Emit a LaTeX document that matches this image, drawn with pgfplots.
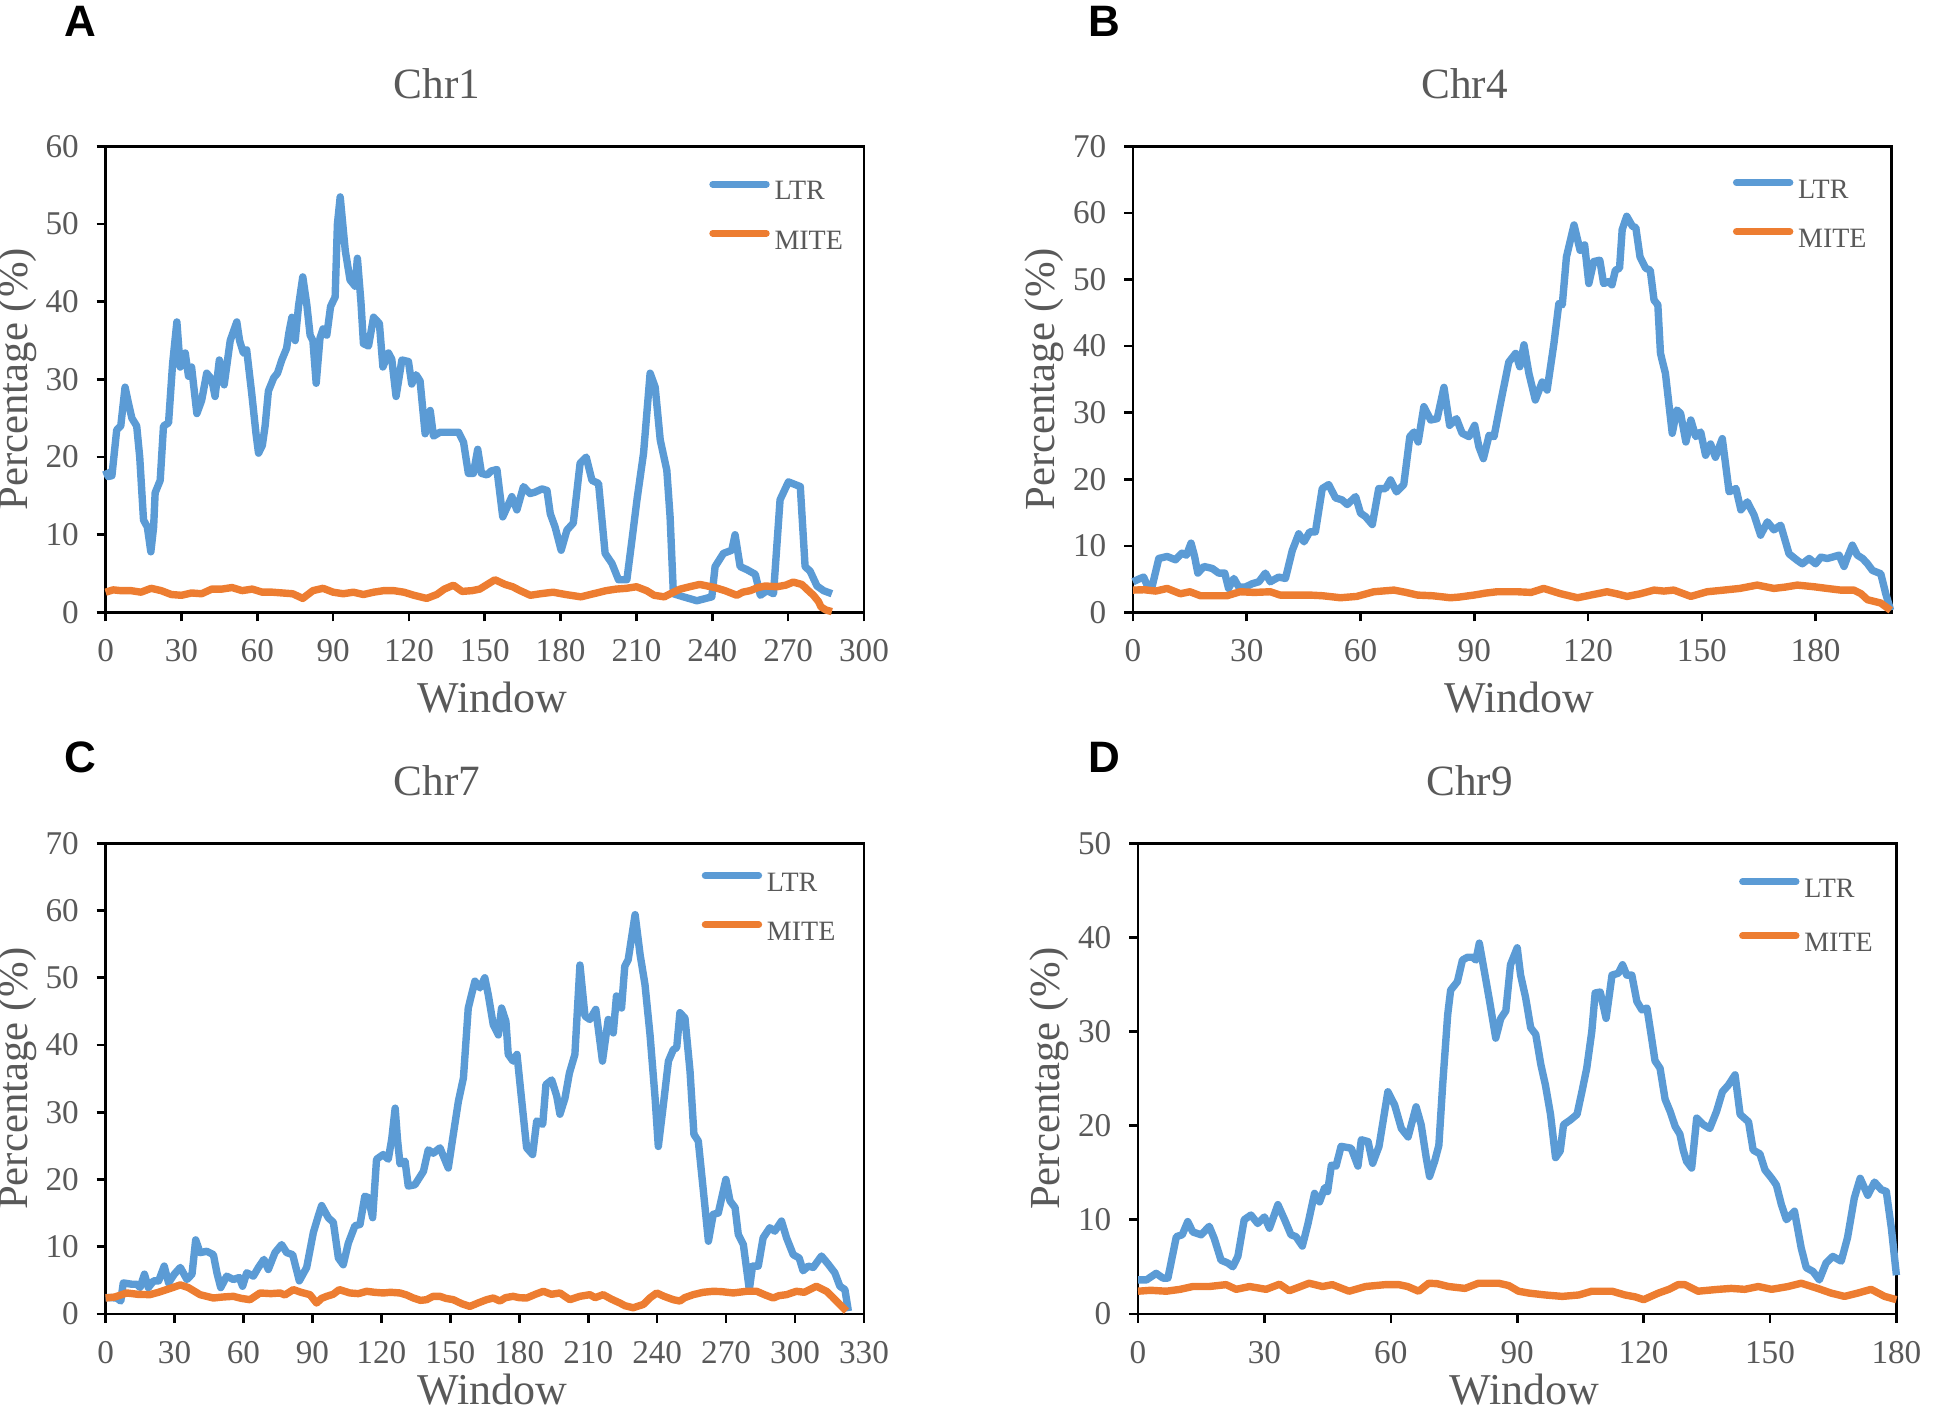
\documentclass[border=0pt]{standalone}
\usepackage{fontspec}
\setmainfont{Liberation Serif}
\newfontfamily\labelfont{Liberation Sans}
\usepackage{pgfplots}
\pgfplotsset{compat=1.18}
\definecolor{ltr}{HTML}{5B9BD5}
\definecolor{mite}{HTML}{ED7D31}
\definecolor{textgray}{HTML}{595959}
\pgfplotsset{
 panel/.style={
  scale only axis, width=189.6pt,
  clip=false,
  axis line style={black, line width=0.65pt},
  tick style={black, line width=0.65pt},
  major tick length=2.25pt, tick align=outside,
  xtick pos=left, ytick pos=left,
  xmin=0, ymin=0,
  /pgf/number format/assume math mode=true,
  ticklabel style={font=\fontsize{8.3}{10}\selectfont, text=textgray, inner sep=0pt},
  xticklabel shift=4.4pt, yticklabel shift=4.25pt,
  title style={at={(0.437,1)}, anchor=center, yshift=9.7pt, font=\fontsize{10.8}{13}\selectfont, text=textgray},
  xlabel=Window,
  xlabel style={at={(axis description cs:0.51,-0.182)}, anchor=center, inner sep=0pt, font=\fontsize{11}{13}\selectfont, text=textgray},
  ylabel={Percentage (\%)},
  ylabel style={at={(axis description cs:-0.1166,0.5)}, anchor=center, font=\fontsize{10.7}{13}\selectfont, text=textgray},
  legend cell align=left,
  legend image code/.code={\draw[##1, line width=1.7pt, line cap=round] (0.8pt,2.4pt) -- (14.2pt,2.4pt);},
  legend style={draw=none, fill=none, inner sep=0pt, font=\fontsize{7}{8}\selectfont, text=textgray, row sep=4.6pt, nodes={inner xsep=1.2pt, inner ysep=0.8pt}},
 },
 ltrline/.style={ltr, line width=1.85pt, line join=round},
 miteline/.style={mite, line width=1.85pt, line join=round},
}
\begin{document}
\begin{tikzpicture}
\useasboundingbox (0,0) rectangle (486.5pt,353pt);
% ---------------- A: Chr1
\begin{axis}[panel, at={(26.4pt,199.9pt)}, anchor=south west, height=116.5pt,
  title=Chr1, xmax=300, ymax=60, xtick={0,30,...,300}, ytick={0,10,...,60},
  legend style={at={(axis description cs:0.795,1)}, anchor=north west, yshift=-7.8pt}]
\addplot[ltrline] coordinates {(0,18.3)(1,17.5)(2.5,17.6)(4.4,23.5)(6,24)(7.7,29)(9,27)(10.4,25)(12.3,24)(13.5,20)(15,11.9)(16.5,11)(17.9,7.8)(19,11)(19.6,15.4)(21.6,17)(22.9,24)(24.9,24.4)(26.5,32)(28.2,37.4)(29.5,31.6)(30.5,32)(31.5,33.4)(32.8,30.4)(34,31.6)(36.1,25.6)(38,27.3)(40,30.8)(42,30)(43.3,27.8)(45,32.5)(46.9,29.3)(49.3,35)(51.9,37.4)(53,35)(54.5,33.4)(55.8,33.8)(57.8,28.2)(59.5,23)(60.5,20.5)(62,21.5)(63.1,24)(64.4,28.5)(66.5,30.2)(68,30.8)(69.7,32.5)(71.6,34)(72.5,36)(73.7,38)(75,35)(76.3,39.4)(78,43.2)(79.6,39.6)(80.9,35.7)(82,35)(83.3,29.5)(84.8,35.3)(86,36.5)(87.5,35.7)(89,39.4)(90.8,40.6)(91.7,50)(92.8,53.5)(94.8,46.6)(96.7,42.8)(98.7,42)(99.6,45.6)(101,40)(102,34.6)(104,34.3)(106,38)(108.3,37.2)(109.7,31.6)(111.9,33.4)(113.2,32.6)(114.9,27.8)(117.2,32.5)(119.8,32.3)(121.1,29.4)(122.8,30.6)(124.4,29.8)(126.4,23)(128.4,26)(129.7,22.7)(132.3,23.2)(136.3,23.2)(139.6,23.2)(141.6,21.9)(143.5,17.9)(145.5,17.9)(147.2,21)(148.7,17.9)(150.9,17.7)(152.5,18.2)(154.8,18.4)(157.1,12.3)(160.7,14.9)(162.7,13.2)(165.3,16.2)(167.9,15.3)(170,15.5)(172.6,15.9)(174.6,15.7)(175.9,12.7)(177.8,11)(180.2,8)(182.5,10.6)(185,11.5)(187.7,19.2)(190.1,20)(192.4,17)(195,16.6)(197.6,7.6)(200.3,6.3)(202.9,4.2)(206.2,4.2)(208.2,9.3)(210.2,14.5)(212.8,20.5)(215.4,30.8)(217.4,29)(219.4,22.2)(222,18.3)(223.3,12.3)(224.6,2.4)(228.6,2)(233.9,1.5)(239.8,2)(241.1,5.9)(244.4,7.6)(247.7,8)(249,10)(251,5.9)(253.7,5.5)(257,4.9)(259,2.2)(261.6,2.8)(264.2,2.4)(266.8,14.5)(270.1,16.8)(274.8,16.2)(276.7,5.9)(278.7,5.3)(281.4,3.4)(284,2.8)(287.3,2.4)};
\addlegendentry{LTR}
\addplot[miteline] coordinates {(0,2.6)(3,2.9)(6,2.8)(10,2.8)(14,2.6)(18,3.1)(22,2.8)(26,2.3)(30,2.2)(34,2.5)(38,2.4)(42,3.0)(46,3.0)(50,3.2)(54,2.8)(58,3.0)(62,2.6)(66,2.6)(70,2.5)(74,2.4)(78,1.8)(82,2.8)(86,3.1)(90,2.6)(94,2.4)(98,2.6)(102,2.3)(106,2.6)(110,2.8)(114,2.8)(118,2.6)(122,2.2)(127,1.8)(131,2.3)(134,3.0)(137.6,3.5)(141,2.7)(145,2.8)(148,3.0)(151,3.6)(154,4.2)(158,3.6)(161,3.3)(164,2.8)(168,2.2)(172,2.4)(177,2.6)(182,2.3)(188,2.0)(193,2.4)(198,2.8)(202,3.0)(206,3.1)(210,3.3)(214,2.8)(217,2.2)(221,2.0)(224,2.5)(227.3,3.0)(231,3.3)(235,3.6)(238,3.4)(241,3.2)(245,2.8)(249.7,2.2)(252,2.6)(255,2.8)(258,3.2)(261,3.4)(265.5,3.3)(269,3.5)(272,3.9)(275.4,3.6)(278,2.8)(280,2.2)(282,1.4)(283,0.7)(285,0.3)(287.3,0.1)};
\addlegendentry{MITE}
\end{axis}
% ---------------- B: Chr4
\begin{axis}[panel, at={(283.25pt,199.9pt)}, anchor=south west, height=116.5pt,
  title=Chr4, xmax=200, ymax=70, xtick={0,30,...,180}, ytick={0,10,...,70},
  legend style={at={(axis description cs:0.790,1)}, anchor=north west, yshift=-7.4pt}]
\addplot[ltrline] coordinates {(0,4.6)(1.5,5)(2.8,5.3)(3.7,4.1)(5,3.8)(6.8,8.1)(9,8.4)(11.2,7.9)(12.9,8.9)(14.1,8.6)(15.3,10.4)(16.2,8.5)(17.1,5.9)(18.7,6.9)(20.9,6.6)(22.6,5.9)(24.2,5.9)(25.2,3.6)(26.6,5.1)(27.9,3.8)(29.6,3.8)(31.4,4.3)(33.2,4.6)(34.9,5.9)(36.2,4.6)(38.4,5.3)(40.2,5.1)(42,9.3)(43.7,11.8)(45.1,10.6)(46.6,12.1)(48.1,12.1)(49.9,18.6)(51.6,19.2)(53.4,17.2)(55.1,16.9)(56.5,16.2)(58.7,17.4)(60,14.9)(61.3,14.4)(63.1,13.2)(64.8,18.6)(66.6,18.6)(67.9,19.9)(69.5,18.1)(71.4,19.2)(73,26.4)(74.1,27.1)(75.2,25.6)(76.7,30.9)(78.5,28.9)(80.2,29.1)(82,33.8)(83.5,28.1)(85.3,29.1)(86.8,26.9)(88.6,26.4)(90.1,28.1)(91.2,24.9)(92.4,23.1)(93.9,26.6)(95.2,26.4)(96.9,31.4)(99.1,37.6)(100.9,38.9)(102,36.9)(103.1,40.2)(104.4,35.9)(106.1,31.9)(107.9,34.6)(109.2,33.4)(111,40.4)(112.3,46.4)(113.2,46.2)(114.3,53.4)(116.3,58.2)(117.9,54.4)(119.1,55.2)(120.2,49.4)(121.5,52.7)(123.1,52.9)(124.1,49.4)(125.5,49.7)(126.3,49.2)(127.2,51.4)(128.3,51.7)(129,57.5)(130.2,59.5)(131.7,58)(132.6,57.8)(133.7,53.4)(135.2,51.7)(136.4,51.4)(137.4,46.9)(138.4,46.2)(139.1,38.9)(140.4,35.9)(141.3,31.4)(142.2,26.9)(143.4,30.4)(144.4,29.9)(145.8,25.6)(147.1,28.9)(148.4,26.4)(149.7,27.1)(151,23.6)(152.3,25.3)(153.6,23.3)(155.4,26.1)(157.2,18.1)(159,18.6)(160.3,15.4)(162,16.6)(163.8,14.6)(165.5,11.6)(167.3,13.6)(169,12.4)(170.8,13.1)(173,8.8)(175.2,7.8)(176.5,7.3)(178.3,8.1)(180,7.3)(181.4,8.3)(183.1,8.1)(184.4,8.3)(186.2,8.6)(187.5,6.9)(188.4,8.3)(189.7,10.1)(191,8.6)(192.4,8.1)(193.7,7.3)(195,6.3)(197.2,5.8)(198.5,2.8)(199.8,0.3)};
\addlegendentry{LTR}
\addplot[miteline] coordinates {(0,3.35)(3,3.4)(6,3.2)(9,3.6)(12.5,2.8)(15,3.1)(17.8,2.5)(21,2.5)(24.8,2.5)(28.2,3.1)(32,3.0)(36.2,3.1)(38.8,2.6)(42,2.6)(46.7,2.6)(50,2.5)(54.7,2.2)(59,2.4)(63.5,3.1)(68.8,3.35)(72,3.0)(75,2.6)(79,2.5)(83.7,2.2)(86,2.3)(89.9,2.6)(93,2.9)(96,3.1)(101.3,3.1)(105,3.0)(108.3,3.6)(112.8,2.8)(117.2,2.2)(120.7,2.6)(125,3.1)(127.5,2.8)(130.3,2.4)(133.8,2.8)(137.4,3.35)(140,3.2)(142.6,3.35)(147.1,2.4)(151.4,3.1)(155.8,3.35)(160,3.6)(164.6,4.1)(169,3.6)(172,3.8)(175.2,4.1)(179.6,3.85)(183,3.6)(186.6,3.35)(190.1,3.35)(192,2.8)(193.7,1.9)(197.2,1.4)(199.8,0.3)};
\addlegendentry{MITE}
\end{axis}
% ---------------- C: Chr7
\begin{axis}[panel, at={(26.4pt,24.55pt)}, anchor=south west, height=117.6pt,
  title=Chr7, xmax=330, ymax=70, xtick={0,30,...,330}, ytick={0,10,...,70},
  xlabel style={at={(axis description cs:0.51,-0.1616)}},
  legend style={at={(axis description cs:0.785,1)}, anchor=north west, yshift=-6.4pt}]
\addplot[ltrline] coordinates {(0,2.4)(2.5,2.4)(4.8,2.35)(6.6,1.9)(7.7,4.6)(9.5,4.5)(11.4,4.4)(13.6,4.4)(15,3.9)(16.9,5.9)(18.6,3.9)(20.9,4.9)(23.1,4.9)(25.5,7.1)(27.4,4.6)(29.9,5.9)(32.5,6.9)(35.4,5.1)(37.6,5.9)(39.2,11)(41.1,9.1)(44,9.3)(46.9,8.8)(48.5,6)(50.1,3.9)(52.7,5.6)(55.6,5.1)(58.2,5.4)(59.6,4.1)(61.4,6.1)(64.3,5.6)(66.5,6.9)(68.9,8.1)(70.8,6.6)(73.7,9.1)(76.6,10.3)(78.8,9.1)(81.4,8.8)(84.3,4.9)(87.5,6.9)(90.4,12.1)(92.5,14.5)(94,16.1)(96.9,14.3)(99.1,13.6)(101.3,8.3)(103.4,7.3)(105.6,10.5)(108.5,13.1)(110.7,13.3)(112.8,17.5)(114.3,17.3)(116.2,14.3)(117.9,23)(120.8,23.7)(123,23)(124.5,26)(126,30.6)(127,26)(128.1,22.3)(130.3,22.7)(131.7,19)(134.6,19.2)(138.3,21.2)(140.4,24.4)(142.6,23.9)(145.5,24.7)(149.1,21.7)(151.3,26.7)(153.5,31.6)(155.7,35.1)(157.8,45.5)(160.7,49.5)(162.9,48.5)(165,50)(166.5,47.5)(168.7,43)(170.9,41.5)(172.3,45.5)(174.2,43.5)(175.2,38.6)(177.3,37.6)(179,38.6)(180.8,32.6)(183.2,24.7)(185.8,23.7)(187.6,28.7)(190.2,28.2)(191.6,34.1)(194.1,34.8)(196.3,32.4)(197.7,29.7)(199.9,32.1)(201.8,35.8)(204.2,38.6)(206.4,51.9)(208.6,44.3)(210.7,43.8)(213.3,45.3)(216.2,37.6)(218.7,43.8)(220.9,41.8)(222.3,47.3)(224.5,45.5)(225.9,51.7)(227.4,52.7)(230.4,59.4)(232.6,53.4)(234.7,49)(236.9,41.5)(239.1,32.1)(240.5,24.9)(242.7,31.1)(244.9,37.6)(247,39.3)(248.5,39.6)(249.9,44.8)(252.1,44)(254.3,36.1)(256,26.7)(257.9,25.7)(260.1,18.3)(262.3,10.8)(264.4,14.8)(266.6,15)(269.9,20)(271.7,16.8)(273.9,15.8)(275.3,11.8)(277.5,10.3)(280.1,3.6)(281.5,7.1)(284,7.1)(286.1,11.3)(289,12.8)(291.2,12.3)(294.1,13.8)(296.3,11.3)(299.2,8.8)(301.8,8.3)(303.5,6.4)(305.7,7.1)(307.9,6.9)(311.5,8.6)(314.4,7.4)(317.3,6.1)(319.5,4.1)(321.7,3.6)(323.2,0.4)};
\addlegendentry{LTR}
\addplot[miteline] coordinates {(0,2.35)(4,2.5)(9.2,3.1)(14,2.9)(19.3,2.85)(23,3.2)(26.5,3.6)(30,4.0)(32.5,4.3)(36,3.9)(41.1,2.85)(44,2.6)(46.9,2.35)(51,2.5)(55.6,2.6)(59,2.3)(62.8,2.1)(67.2,3.1)(72,3.0)(75.9,3.1)(78,2.8)(81.7,3.6)(85,3.2)(88.9,2.85)(91.8,1.6)(94,2.3)(96.2,2.6)(99,2.9)(101.7,3.6)(106.3,3.1)(110,3.0)(113.6,3.35)(117,3.2)(120.8,3.1)(124,3.2)(128.1,3.1)(131,2.8)(133.9,2.35)(137,2.0)(139.7,2.1)(142.5,2.6)(145.5,2.6)(148,2.3)(151.3,2.1)(155,1.5)(158.5,1.1)(162,1.6)(165.8,2.1)(168.7,2.35)(171.6,1.9)(174,2.4)(177.3,2.6)(180,2.4)(183.2,2.35)(187,2.9)(190.5,3.35)(194,2.9)(197.7,3.1)(202,2.1)(206.4,2.6)(210.7,2.85)(213,2.4)(216.5,2.85)(220,2.2)(223.8,1.6)(226,1.2)(229.6,0.9)(234,1.4)(237,2.4)(239.8,3.1)(243,2.6)(247,2.1)(249.9,1.9)(252,2.4)(255.7,2.85)(260,3.2)(264.4,3.35)(268,3.3)(273.1,3.1)(278.9,3.35)(283.3,3.35)(287,2.8)(290.5,2.35)(293,2.7)(296.3,2.85)(300.6,3.35)(304,3.2)(309.3,4.1)(313.7,3.35)(316,2.6)(318,1.9)(320,1.2)(322.4,0.4)};
\addlegendentry{MITE}
\end{axis}
% ---------------- D: Chr9
\begin{axis}[panel, at={(284.5pt,24.55pt)}, anchor=south west, height=117.6pt,
  title=Chr9, xmax=180, ymax=50, xtick={0,30,...,180}, ytick={0,10,...,50},
  xlabel style={at={(axis description cs:0.51,-0.1616)}},
  legend style={at={(axis description cs:0.7915,1)}, anchor=north west, yshift=-7.9pt, row sep=5.85pt}]
\addplot[ltrline] coordinates {(0,3.6)(2,3.6)(4.3,4.3)(5.9,3.8)(7.1,3.8)(9.1,8.2)(10.5,8.4)(11.8,9.8)(13,8.7)(15,8.4)(16.9,9.3)(18.1,8)(19.7,5.7)(21.3,5.4)(22.5,5)(23.7,6.1)(25.2,10)(26.8,10.5)(28.4,9.6)(30,10.3)(31.2,9.1)(33.2,11.6)(34.8,10)(36.3,8.4)(37.5,8.2)(39,7.2)(40.3,9.5)(41.9,12.8)(43.1,11.9)(44.3,13.4)(45,13)(45.9,15.8)(47,15.7)(48.2,17.8)(50.6,17.6)(52.2,15.7)(53,18.5)(54.6,18.3)(55.7,16)(57.2,17.8)(59.3,23.6)(60.9,22.2)(62.5,19.7)(64.1,18.8)(66,22)(67.2,20.1)(68.4,16.6)(69.2,14.6)(70.4,16.2)(71.4,17.9)(72.3,24.3)(73.5,31.8)(74.2,34.4)(75.8,35.3)(77,37.6)(78.2,37.9)(79.4,37.9)(80.2,37.6)(81,39.4)(82.2,36.4)(83.3,33.6)(84.9,29.3)(86.1,31.4)(87.3,32.2)(88.4,37.1)(90,38.9)(90.8,36)(92,33.6)(93.2,30.4)(94.4,29.7)(95.6,26.5)(96.7,24.3)(97.9,21.2)(99.1,16.6)(100.2,17.3)(101,20.1)(102.6,20.6)(104.2,21.2)(105.4,23.7)(106.5,26.1)(107.7,30)(108.5,34.1)(109.7,34.2)(111.1,31.4)(112.5,36)(114,36.2)(115,37.1)(116,36)(117.2,36)(118.4,33.2)(119.6,32.3)(120.8,32.5)(121.9,29.3)(122.7,26.9)(123.9,26.1)(125.1,22.8)(126.3,21.5)(127.5,19.9)(128.6,19.1)(129.4,17.4)(130.2,16.2)(131.4,15.5)(132.6,20.8)(134.2,20.1)(135.7,19.7)(137.3,21.5)(138.7,23.6)(140.1,24.3)(141.7,25.4)(142.9,21.2)(144.9,20.4)(146,17.4)(147.6,17)(148.8,15.3)(150.4,14.4)(151.5,13.7)(152.7,11.6)(153.9,10)(155.8,10.9)(157.4,7)(158.6,4.9)(160.2,4.5)(161.7,3.6)(163.3,5.4)(164.9,6.1)(166.9,5.6)(168.4,8.1)(170,12.3)(171.4,14.4)(173.2,12.6)(174.8,14)(176.4,13.2)(177.6,13)(178.8,9.1)(180,4.1)};
\addlegendentry{LTR}
\addplot[miteline] coordinates {(0,2.4)(3,2.5)(6.7,2.4)(10,2.6)(13,2.9)(16.9,2.9)(20.9,3.1)(23.3,2.6)(26.5,2.9)(30.4,2.6)(33.6,3.15)(35.9,2.45)(38,2.8)(40.6,3.25)(43.8,2.9)(46.1,3.1)(50.1,2.4)(54,2.9)(58.7,3.1)(61.9,3.1)(64,2.9)(66.6,2.4)(69,3.25)(71,3.2)(73.7,2.9)(77.6,2.7)(80.8,3.25)(85.6,3.25)(88,3.0)(90.3,2.4)(92.8,2.2)(96.7,2.0)(100.7,1.85)(104.6,2.0)(107.7,2.4)(112.5,2.4)(115.6,2.0)(118,1.8)(120,1.5)(123.5,2.2)(126,2.6)(128.2,3.1)(129.8,3.1)(132.9,2.4)(137.7,2.6)(140.8,2.7)(144,2.6)(147.2,2.9)(150.4,2.6)(154.3,2.9)(157.4,3.25)(161.3,2.7)(164.5,2.2)(167.7,1.85)(170.8,2.2)(174,2.6)(177.2,1.85)(180,1.5)};
\addlegendentry{MITE}
\end{axis}
% panel letters
\node[font=\labelfont\bfseries\fontsize{11}{13}\selectfont, anchor=center] at (20.2pt,347.75pt) {A};
\node[font=\labelfont\bfseries\fontsize{11}{13}\selectfont, anchor=center] at (276.15pt,347.75pt) {B};
\node[font=\labelfont\bfseries\fontsize{11}{13}\selectfont, anchor=center] at (20.2pt,163.75pt) {C};
\node[font=\labelfont\bfseries\fontsize{11}{13}\selectfont, anchor=center] at (276.15pt,163.75pt) {D};
\end{tikzpicture}
\end{document}
